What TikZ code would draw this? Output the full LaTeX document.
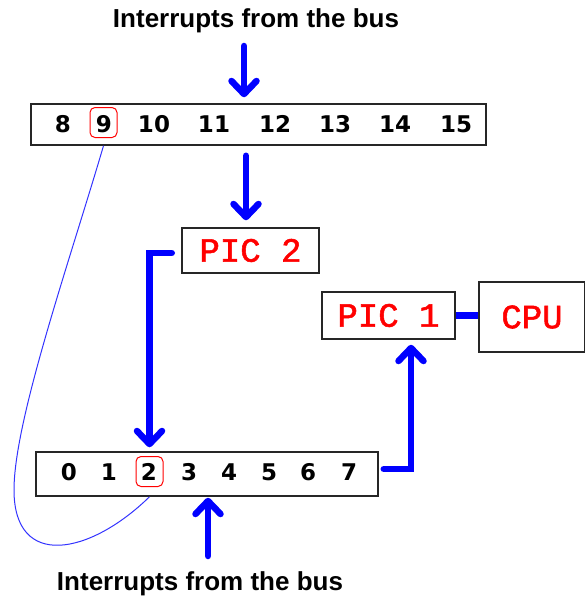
\documentclass[tikz,border=0pt]{standalone}
\usepackage{fontspec}
\usetikzlibrary{arrows.meta}
\newfontfamily\labelfont{Liberation Sans}
\newfontfamily\chipfont{Liberation Mono}[BoldFont=Liberation Mono, BoldFeatures={FakeBold=1.6}]
\newfontfamily\digitfont{DejaVu Sans}

\begin{document}
\begin{tikzpicture}
[x=1pt, y=-1pt,
bank/.style={draw=black!85, line width=1.5pt, inner sep=0pt},
chip/.style={bank, font=\chipfont\bfseries\fontsize{34}{34}\selectfont, text=red},
irq/.style={font=\digitfont\bfseries\fontsize{23}{23}\selectfont, inner sep=0pt, text height=17pt, text depth=0pt},
ring/.style={draw=red, line width=1pt, rounded corners=5pt, minimum width=27pt, minimum height=30pt},
caption/.style={font=\labelfont\bfseries\fontsize{26}{26}\selectfont},
bus/.style={draw=blue, line width=6.5pt, line cap=round, -{Straight Barb[length=13pt, width=25pt, round]}},
link/.style={draw=blue, line width=7pt},
wire/.style={draw=blue!80, line width=1pt}]

\useasboundingbox (0,0) rectangle (585,602);

% interrupt lines
\node[bank, minimum width=455pt, minimum height=41pt] (hibox) at (258.5,124.5) {};
\node[bank, minimum width=342pt, minimum height=44pt] (lobox) at (207,474) {};
\foreach \n/\x in {8/63, 9/104, 10/154, 11/214, 12/275, 13/335, 14/395, 15/456}
    \node[irq] (irq\n) at (\x,124) {\n};
\foreach \n/\x in {0/69, 1/109, 2/149, 3/189, 4/229, 5/269, 6/308, 7/349}
    \node[irq] (irq\n) at (\x,472) {\n};
\node[ring] (ring9) at (103.5,122.5) {};
\node[ring] (ring2) at (149.5,471.5) {};

% controllers
\node[chip, minimum width=137pt, minimum height=45pt] (pictwo) at (250.5,250.5) {PIC 2};
\node[chip, minimum width=133pt, minimum height=47pt] (picone) at (388.5,315.5) {PIC 1};
\node[chip, minimum width=106pt, minimum height=70pt] (cpu) at (532,317) {CPU};

\node[caption] (topbus) at (256,21) {Interrupts from the bus};
\node[caption] (lowbus) at (200,584) {Interrupts from the bus};
\coordinate (topin) at (244,46);
\coordinate (lowin) at (208,556);

\draw[bus, shorten >=6pt] (topin) -- (topin |- hibox.north);
\draw[bus, shorten <=10pt, shorten >=7pt] ([xshift=-4.5pt]pictwo.north |- hibox.south) -- ([xshift=-4.5pt]pictwo.north);
\draw[bus, shorten >=4pt] ([xshift=-9.5pt,yshift=-2.5pt]pictwo.west) -| (ring2 |- lobox.north);
\draw[bus, shorten >=5pt] ([xshift=5pt,yshift=5pt]lobox.east) -| ([xshift=22.5pt]picone.south);
\draw[bus, shorten >=1pt] (lowin) -- (lowin |- lobox.south);
\draw[link] (picone.east) -- (picone.east -| cpu.west);

% cascade
\draw[wire] (ring9 |- hibox.south) .. controls (70,260) and (14,420) .. (14,490)
    .. controls (14,570) and (90,555) .. (ring2 |- lobox.south);

\end{tikzpicture}
\end{document}
